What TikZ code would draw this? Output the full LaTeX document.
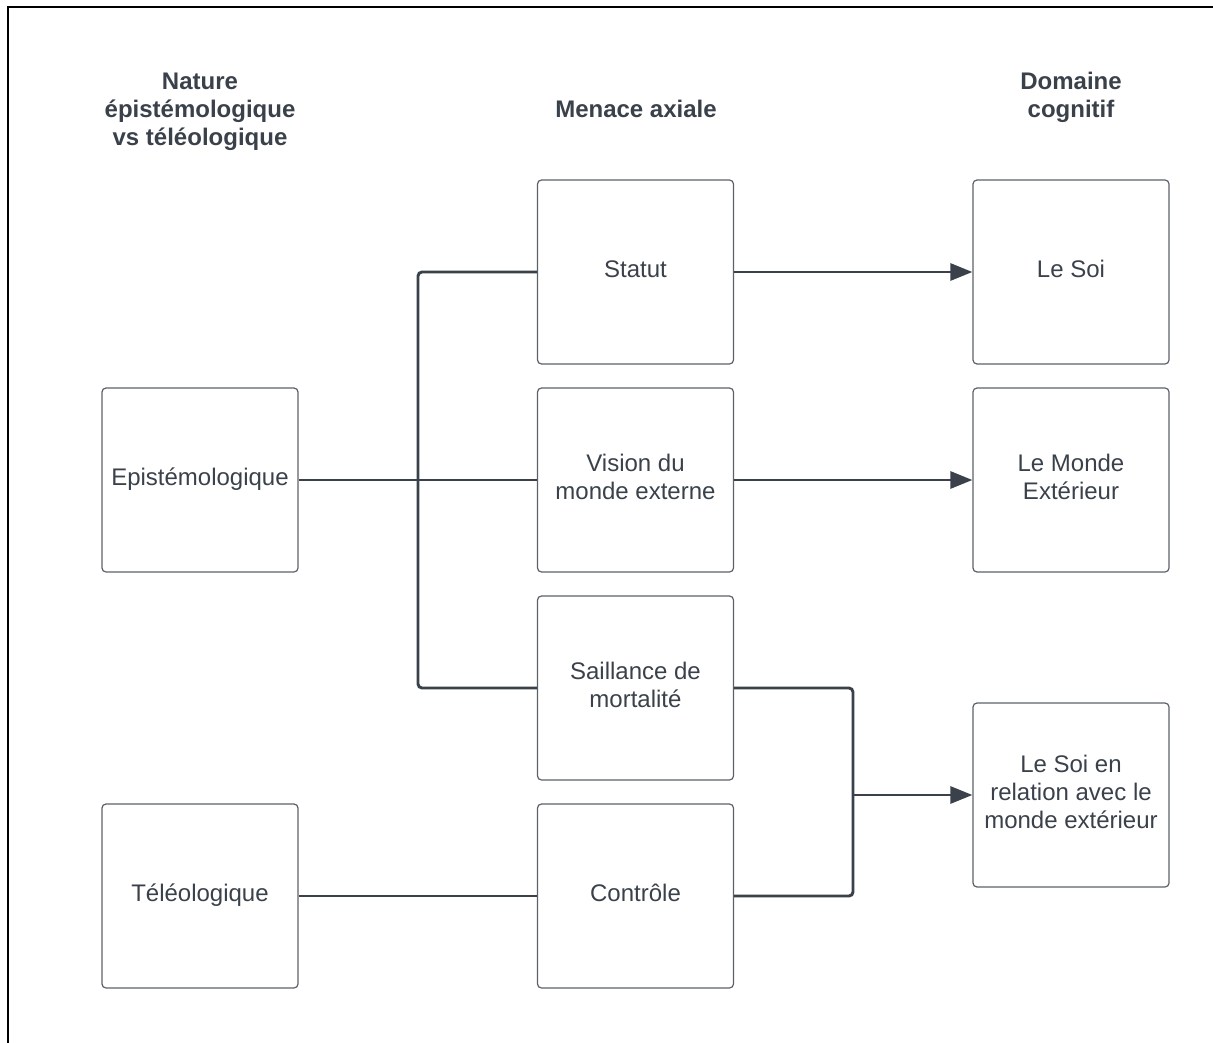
\documentclass[tikz,border=0pt]{standalone}
\usepackage{fontspec}
\setmainfont{Liberation Sans}
\usetikzlibrary{arrows.meta}
\definecolor{ink}{HTML}{3A414A}
\definecolor{boxline}{HTML}{5C6168}
\begin{document}
\begin{tikzpicture}[x=1pt,y=-1pt,
  box/.style={draw=boxline, line width=1.2pt, rounded corners=4pt, minimum width=196pt, minimum height=184pt,
    align=center, text=ink, font=\fontsize{24}{28}\selectfont, inner sep=0pt, text depth=6pt},
  hdr/.style={align=center, text=ink, font=\fontsize{24}{28}\selectfont\bfseries},
  conn/.style={draw=ink, line width=2.9pt, rounded corners=4pt},
  arr/.style={conn, -{Triangle[length=22pt,width=17pt]}}]
\useasboundingbox (0,0) rectangle (1213,1043);
\draw[line width=2.2pt, black] (8,1043) -- (8,7) -- (1213,7);
% headers
\node[hdr] (h1) at (200,112) {Nature\\épistémologique\\vs téléologique};
\node[hdr] (h2) at (636,109) {Menace axiale};
\node[hdr] (h3) at (1071,97) {Domaine\\cognitif};
% boxes
\node[box] (E) at (200,480) {Epistémologique};
\node[box] (T) at (200,896) {Téléologique};
\node[box] (S) at (635.5,272) {Statut};
\node[box] (V) at (635.5,480) {Vision du\\monde externe};
\node[box] (M) at (635.5,688) {Saillance de\\mortalité};
\node[box] (C) at (635.5,896) {Contrôle};
\node[box] (LS) at (1071,272) {Le Soi};
\node[box] (LM) at (1071,480) {Le Monde\\Extérieur};
\node[box] (LR) at (1071,795) {Le Soi en\\relation avec le\\monde extérieur};
% junction coordinates
\coordinate (jt) at (418,272);
\coordinate (jb) at (418,688);
\coordinate (jr1) at (853,688);
\coordinate (jr2) at (853,896);
\coordinate (jm) at (853,795);
% connectors
\draw[conn] (E.east) -- (V.west);
\draw[conn] (S.west) -- (jt) -- (jb) -- (M.west);
\draw[conn] (T.east) -- (C.west);
\draw[arr] (S.east) -- (LS.west);
\draw[arr] (V.east) -- (LM.west);
\draw[conn] (M.east) -- (jr1) -- (jr2) -- (C.east);
\draw[arr] (jm) -- (LR.west);
\end{tikzpicture}
\end{document}
